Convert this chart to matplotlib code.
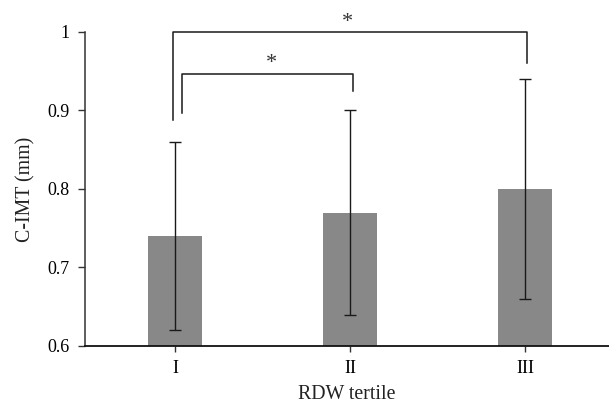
import matplotlib
matplotlib.use("Agg")
import matplotlib.pyplot as plt

# data
tertiles = ['I', 'II', 'III']
means = [0.74, 0.77, 0.80]
lower = [0.62, 0.64, 0.66]
upper = [0.86, 0.90, 0.94]

plt.rcParams['font.family'] = ['Liberation Serif', 'DejaVu Serif']

fig = plt.figure(figsize=(6.09, 4.05), dpi=100)
ax = fig.add_axes([0.1396, 0.1457, 0.8604, 0.7753])

x = list(range(len(tertiles)))
err_lo = [m - l for m, l in zip(means, lower)]
err_hi = [u - m for m, u in zip(means, upper)]

ax.bar(x, [m - 0.6 for m in means], bottom=0.6, width=0.31, color='#888888', zorder=1)
ax.errorbar(x, means, yerr=[err_lo, err_hi], fmt='none', ecolor='#1a1a1a',
            elinewidth=1.0, capsize=4, capthick=1.0, zorder=2)

# significance brackets
lw = 1.1
ax.plot([-0.01, -0.01, 2.01, 2.01], [0.888, 1.0, 1.0, 0.96], color='#1a1a1a', lw=lw, clip_on=False)
ax.text(0.985, 1.0115, '*', ha='center', va='center', fontsize=16, color='#333333')
ax.plot([0.04, 0.04, 1.02, 1.02], [0.897, 0.946, 0.946, 0.925], color='#1a1a1a', lw=lw, clip_on=False)
ax.text(0.55, 0.960, '*', ha='center', va='center', fontsize=16, color='#333333')

ax.set_xlim(-0.514, 2.48)
ax.set_ylim(0.6, 1.0)
ax.set_yticks([0.6, 0.7, 0.8, 0.9, 1.0])
ax.set_yticklabels(['0.6', '0.7', '0.8', '0.9', '1'])
ax.set_xticks(x)
ax.set_xticklabels(tertiles)

for s in ['top', 'right']:
    ax.spines[s].set_visible(False)
ax.spines['left'].set_color('#333333')
ax.spines['bottom'].set_color('#111111')
ax.spines['left'].set_linewidth(1.1)
ax.spines['bottom'].set_linewidth(1.3)
ax.tick_params(axis='y', length=5, width=1.0, color='#333333', labelsize=13, pad=6)
ax.tick_params(axis='x', length=4, width=1.0, color='#333333', labelsize=13, pad=6)

ax.set_ylabel('C-IMT (mm)', fontsize=14.3, color='#222222', labelpad=9)
ax.set_xlabel('RDW tertile', fontsize=14.3, color='#222222', labelpad=6)

fig.savefig('out.png', dpi=100)
